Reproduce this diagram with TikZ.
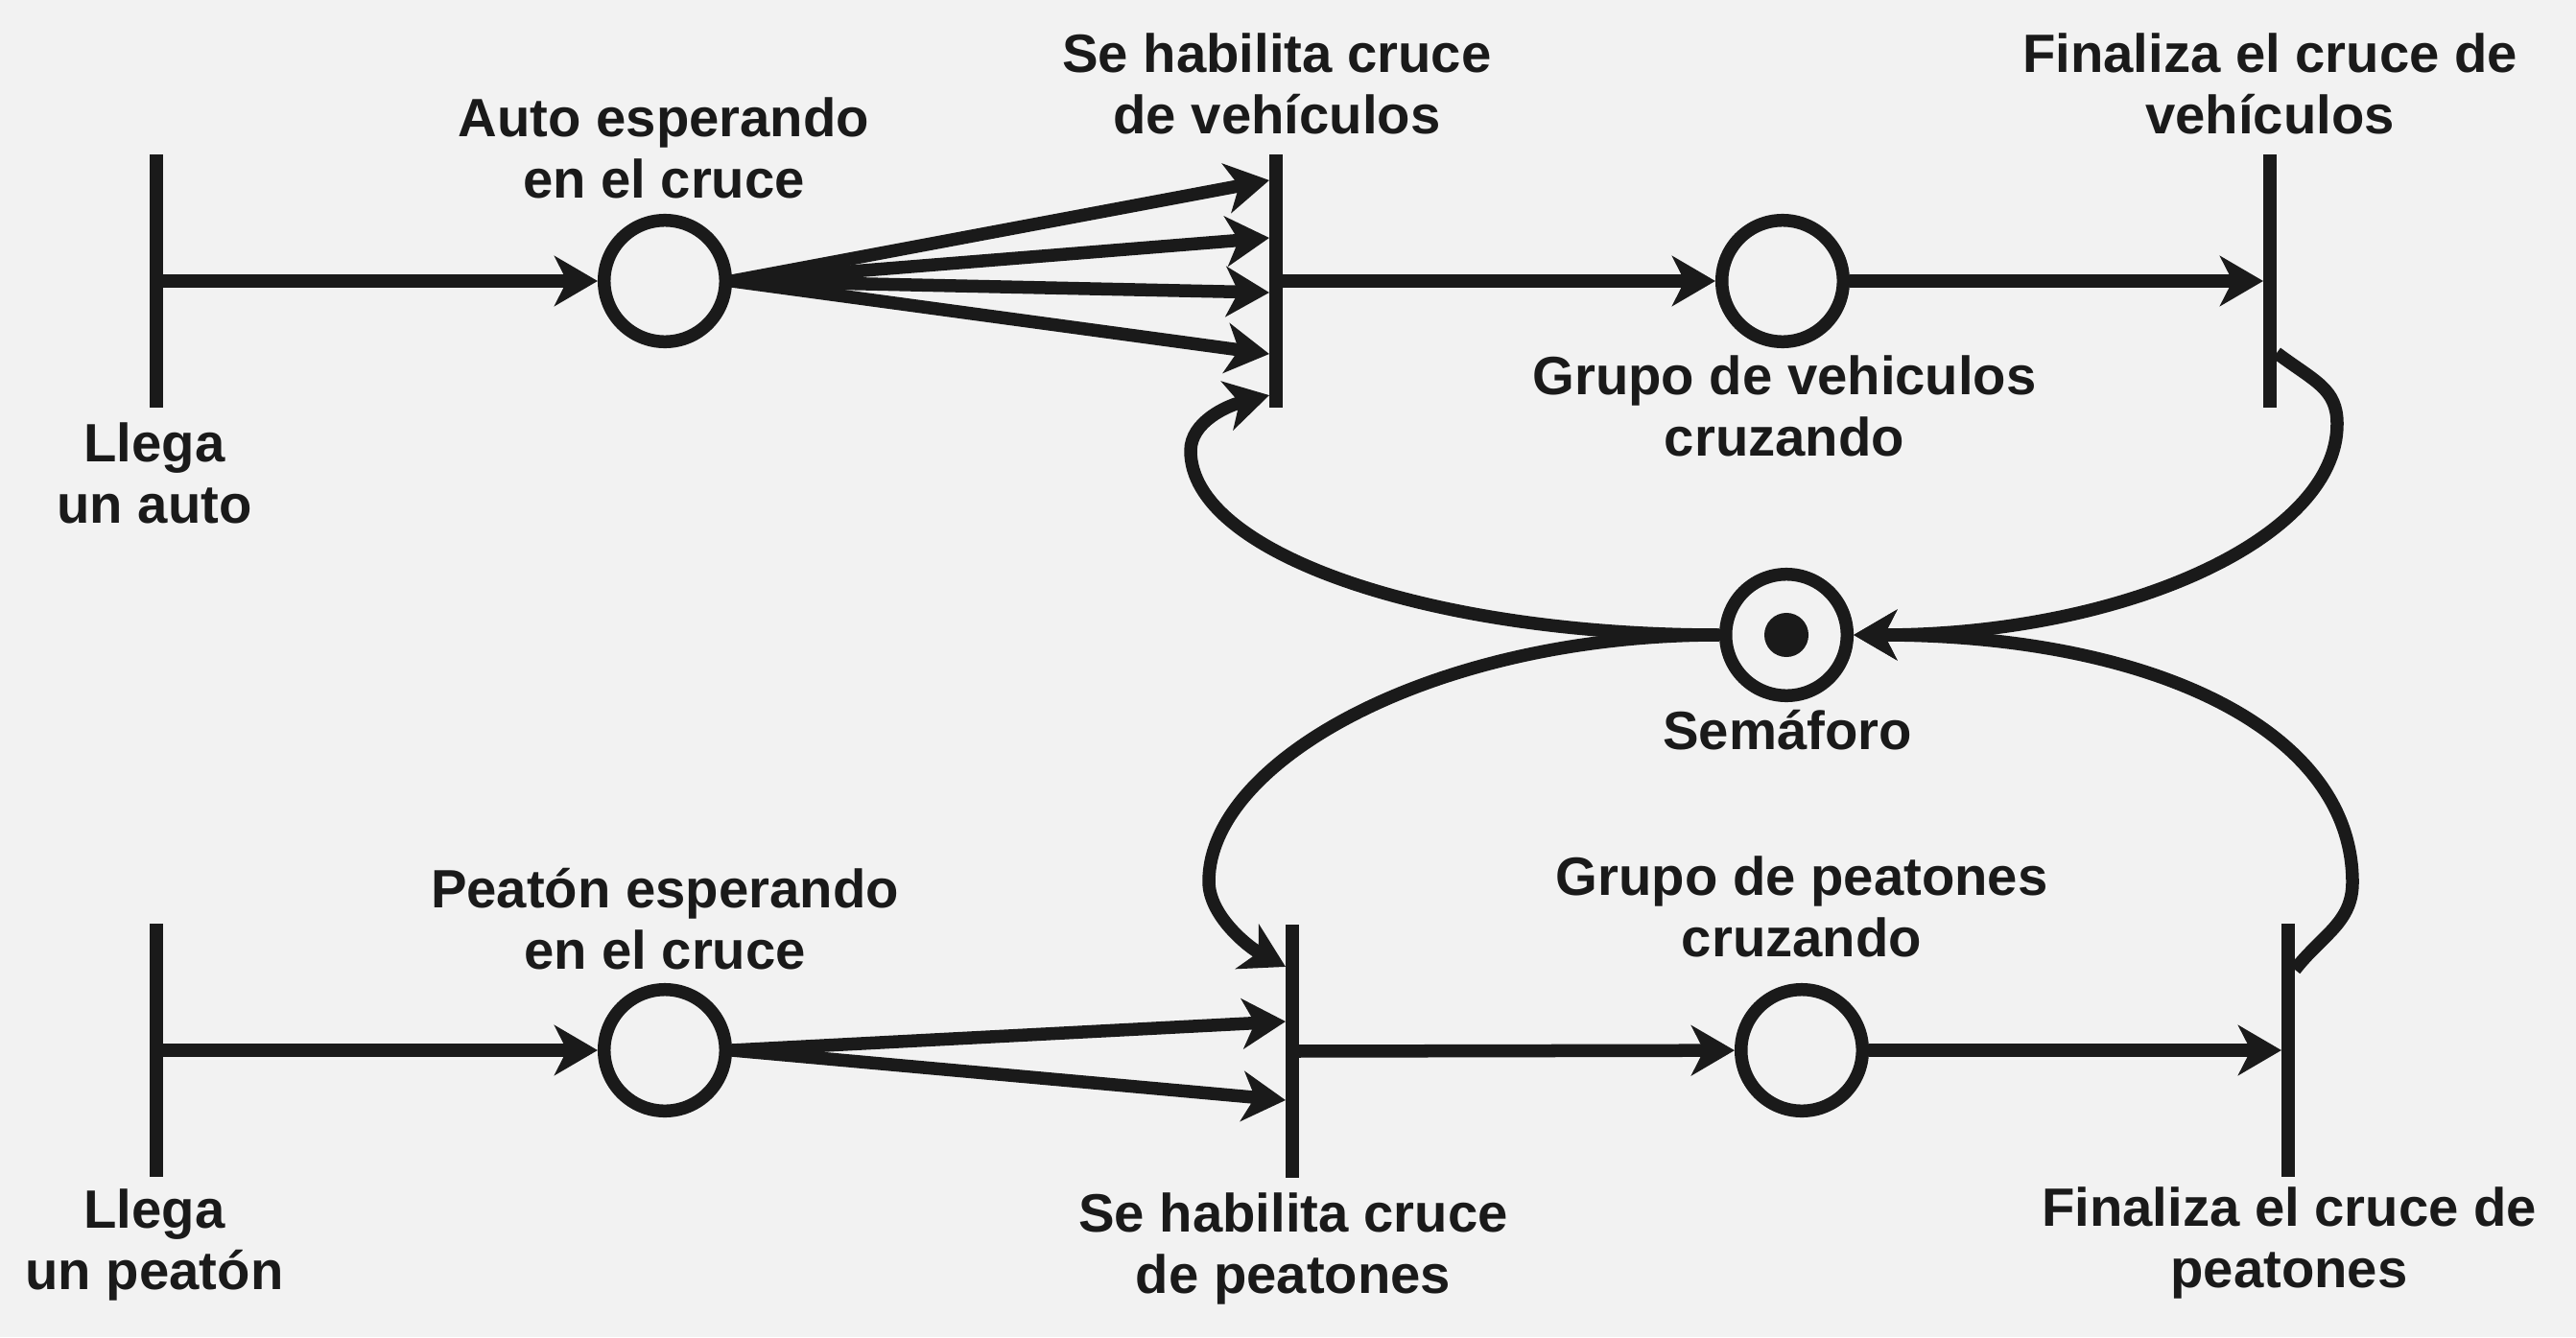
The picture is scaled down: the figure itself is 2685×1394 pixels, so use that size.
\documentclass[tikz,border=0pt]{standalone}
\usepackage{fontspec}
\setmainfont{Liberation Sans}
\usetikzlibrary{arrows.meta}
\definecolor{tinta}{HTML}{1A1A1A}
\definecolor{fondo}{HTML}{F2F2F2}
\tikzset{
    lugar/.style={circle, draw=tinta, line width=0.135cm, minimum size=1.265cm, inner sep=0pt},
    transicion/.style={rectangle, fill=tinta, minimum width=0.14cm, minimum height=2.63cm, inner sep=0pt, outer sep=0pt},
    arco/.style={draw=tinta, line width=0.135cm, -{Stealth[length=4.5mm, width=5.2mm, inset=1.3mm]}},
    etiqueta/.style={text=tinta, font=\bfseries\fontsize{16}{18.2}\selectfont, align=center, inner sep=0pt}
}
\begin{document}
\begin{tikzpicture}[x=0.01cm, y=-0.01cm]
        \fill[fondo] (0,0) rectangle (2685,1394);
        \useasboundingbox (0,0) rectangle (2685,1394);

        % fila de los autos
        \node[transicion] (llegaAuto) at (163,293) {};
        \node[lugar] (espAuto) at (693,293) {};
        \node[transicion] (habAuto) at (1330,293) {};
        \node[lugar] (cruzAuto) at (1858,293) {};
        \node[transicion] (finAuto) at (2366,293) {};

        % semaforo con su marca
        \node[lugar] (semaforo) at (1862,662) {};
        \fill[tinta] (semaforo.center) circle (0.23cm);

        % fila de los peatones
        \node[transicion] (llegaPeaton) at (163,1095) {};
        \node[lugar] (espPeaton) at (693,1095) {};
        \node[transicion] (habPeaton) at (1347,1096) {};
        \node[lugar] (cruzPeaton) at (1878,1095) {};
        \node[transicion] (finPeaton) at (2385,1095) {};

        \node[etiqueta] (txtLlegaAuto) at (161,501) {\strut Llega\\ \strut un auto};
        \node[etiqueta] (txtEspAuto) at (692,162) {\strut Auto esperando\\ \strut en el cruce};
        \node[etiqueta] (txtHabAuto) at (1331,95) {\strut Se habilita cruce\\ \strut de vehículos};
        \node[etiqueta] (txtCruzAuto) at (1860,431) {\strut Grupo de vehiculos\\ \strut cruzando};
        \node[etiqueta] (txtFinAuto) at (2366,95) {\strut Finaliza el cruce de\\ \strut vehículos};
        \node[etiqueta] (txtSemaforo) at (1863,769) {\strut Semáforo};
        \node[etiqueta] (txtEspPeaton) at (693,966) {\strut Peatón esperando\\ \strut en el cruce};
        \node[etiqueta] (txtLlegaPeaton) at (161,1300) {\strut Llega\\ \strut un peatón};
        \node[etiqueta] (txtHabPeaton) at (1348,1304) {\strut Se habilita cruce\\ \strut de peatones};
        \node[etiqueta] (txtCruzPeaton) at (1878,953) {\strut Grupo de peatones\\ \strut cruzando};
        \node[etiqueta] (txtFinPeaton) at (2386,1298) {\strut Finaliza el cruce de\\ \strut peatones};

        % arcos de los autos
        \draw[arco] (llegaAuto) -- (espAuto);
        \draw[arco] (espAuto.east) -- ([yshift=1.05cm]habAuto.west);
        \draw[arco] (espAuto.east) -- ([yshift=0.45cm]habAuto.west);
        \draw[arco] (espAuto.east) -- ([yshift=-0.12cm]habAuto.west);
        \draw[arco] (espAuto.east) -- ([yshift=-0.76cm]habAuto.west);
        \draw[arco] (habAuto) -- (cruzAuto);
        \draw[arco] (cruzAuto) -- (finAuto);

        % arcos de los peatones
        \draw[arco] (llegaPeaton) -- (espPeaton);
        \draw[arco] (espPeaton.east) -- ([yshift=0.31cm]habPeaton.west);
        \draw[arco] (espPeaton.east) -- ([yshift=-0.51cm]habPeaton.west);
        \draw[arco] (habPeaton) -- (cruzPeaton);
        \draw[arco] (cruzPeaton) -- (finPeaton);

        % arcos del semaforo
        \draw[arco] (semaforo.west) .. controls (1488,662) and (1241,576) .. (1241,470)
            .. controls (1241,440) and (1279,423) .. ([yshift=-1.19cm]habAuto.west);
        \draw[arco] (semaforo.west) .. controls (1493,662) and (1260,794) .. (1260,919)
            .. controls (1260,955) and (1302,988) .. ([yshift=0.88cm]habPeaton.west);
        \draw[arco] ([yshift=-0.75cm]finAuto.east) .. controls (2413,398) and (2436,405) .. (2436,442)
            .. controls (2436,562) and (2212,662) .. (semaforo.east);
        \draw[arco] ([yshift=0.84cm]finPeaton.east) .. controls (2420,975) and (2452,962) .. (2452,920)
            .. controls (2452,760) and (2240,662) .. (semaforo.east);
\end{tikzpicture}
\end{document}
